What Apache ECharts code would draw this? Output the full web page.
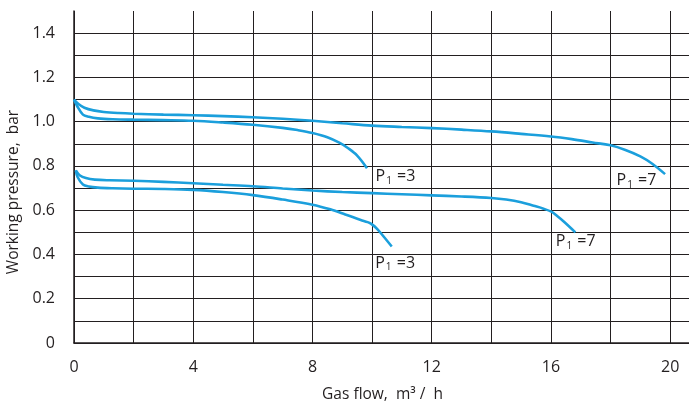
<!DOCTYPE html>
<html>
<head>
<meta charset="utf-8">
<script src="https://cdn.jsdelivr.net/npm/echarts@6/dist/echarts.min.js"></script>
<style>html,body{margin:0;padding:0;background:#fff;overflow:hidden;}#c{width:689px;height:406px;}</style>
</head>
<body>
<div id="c"></div>
<script>
// Data (x: gas flow m3/h, y: working pressure bar)
var upperP7 = [[0,1.10],[0.15,1.08],[0.35,1.063],[0.65,1.051],[1,1.044],[1.5,1.039],[2,1.036],[3,1.032],[4,1.029],[5,1.025],[6,1.020],[7,1.013],[8,1.004],[9,0.993],[10,0.982],[11,0.976],[12,0.971],[13,0.964],[14,0.956],[15,0.945],[16,0.933],[16.7,0.921],[17.4,0.906],[18,0.893],[18.5,0.872],[19,0.843],[19.4,0.810],[19.83,0.763]];
var upperP3 = [[0,1.10],[0.1,1.072],[0.3,1.032],[0.5,1.022],[0.8,1.015],[1.3,1.011],[2,1.009],[3,1.007],[4,1.004],[5,0.996],[6,0.986],[7,0.972],[7.5,0.962],[8,0.949],[8.5,0.930],[8.9,0.905],[9.2,0.880],[9.5,0.847],[9.83,0.790]];
var lowerP7 = [[0.06,0.78],[0.2,0.757],[0.4,0.745],[0.7,0.738],[1.2,0.735],[2,0.733],[3,0.728],[4,0.722],[5,0.715],[6,0.708],[7,0.698],[8,0.689],[9,0.682],[10,0.677],[11,0.672],[12,0.667],[13,0.662],[14,0.655],[14.5,0.648],[15,0.636],[15.42,0.620],[15.75,0.607],[16.03,0.592],[16.2,0.575],[16.43,0.549],[16.82,0.500]];
var lowerP3 = [[0.06,0.78],[0.12,0.75],[0.3,0.716],[0.5,0.707],[0.8,0.702],[1.3,0.699],[2,0.697],[3,0.696],[4,0.692],[5,0.682],[6,0.668],[7,0.648],[8,0.625],[8.6,0.604],[9.1,0.581],[9.62,0.556],[9.85,0.546],[9.96,0.539],[10.13,0.521],[10.29,0.497],[10.66,0.436]];
var curveLabels = ['3', '7', '7', '3'];
var xTitle = 'Gas flow,  m\u00B3 /  h';
var yTitle = 'Working pressure,  bar';

var BLUE = '#1b9fdc';
var INK = '#231f20';
var FONT = 'Open Sans';

function mk(data, pos, lbl) {
  var last = data[data.length - 1];
  return {
    type: 'line', data: data, smooth: 0.35, showSymbol: false, symbol: 'none',
    lineStyle: {color: BLUE, width: 2.6}, itemStyle: {color: BLUE},
    silent: true, animation: false,
    markPoint: {
      symbol: 'circle', symbolSize: 1, silent: true, animation: false,
      itemStyle: {color: 'rgba(0,0,0,0)'},
      data: [{coord: last, value: lbl}],
      label: {
        show: true, position: pos, align: 'left', verticalAlign: 'middle',
        formatter: function () { return '{a|P}{s|1}{a| =' + lbl + '}'; },
        rich: {
          a: {fontFamily: FONT, fontSize: 16, color: INK},
          s: {fontFamily: FONT, fontSize: 10, color: INK, padding: [9, 1, 0, 1]}
        }
      }
    }
  };
}

var chart = echarts.init(document.getElementById('c'), null, {renderer: 'canvas'});
chart.setOption({
  animation: false,
  backgroundColor: '#fff',
  grid: {left: 74, top: 11, width: 617, height: 332, containLabel: false, outerBoundsMode: 'none'},
  xAxis: {
    type: 'value', min: 0, max: 20.7, interval: 2,
    name: xTitle, nameLocation: 'middle', nameGap: 44,
    nameTextStyle: {fontFamily: FONT, fontSize: 15.5, color: INK},
    axisLine: {show: true, lineStyle: {color: INK, width: 1.5}},
    axisTick: {show: false},
    axisLabel: {
      margin: 16, fontFamily: FONT, fontSize: 16, color: INK,
      formatter: function (v) { return (Math.abs(v % 4) < 1e-9) ? String(v) : ''; }
    },
    splitLine: {show: true, showMaxLine: false, lineStyle: {color: INK, width: 1}}
  },
  yAxis: {
    type: 'value', min: 0, max: 1.5, interval: 0.1,
    name: yTitle, nameLocation: 'middle', nameGap: 48,
    nameTextStyle: {fontFamily: FONT, fontSize: 15.5, color: INK, padding: [0, 30, 0, 0]},
    axisLine: {show: true, lineStyle: {color: INK, width: 1.5}},
    axisTick: {show: false},
    axisLabel: {
      margin: 19, fontFamily: FONT, fontSize: 16, color: INK,
      formatter: function (v) {
        var k = Math.round(v * 10);
        if (k % 2 !== 0 || k > 14) return '';
        return k === 0 ? '0' : (k / 10).toFixed(1);
      }
    },
    splitLine: {show: true, showMaxLine: false, lineStyle: {color: INK, width: 1}}
  },
  series: [
    mk(upperP7, [-48, 7], curveLabels[1]),
    mk(upperP3, [9, 9], curveLabels[0]),
    mk(lowerP7, [-19, 10], curveLabels[2]),
    mk(lowerP3, [-16, 17], curveLabels[3])
  ]
});
</script>
</body>
</html>
